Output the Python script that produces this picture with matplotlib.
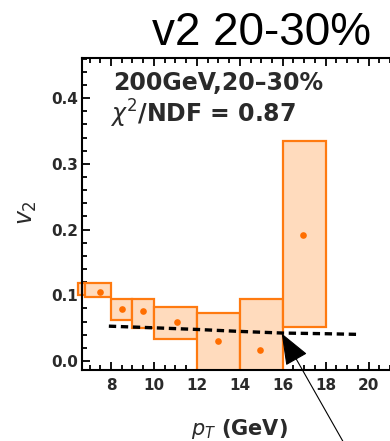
import matplotlib
matplotlib.use("Agg")
import matplotlib.pyplot as plt
from matplotlib.patches import Rectangle
from matplotlib.ticker import MultipleLocator

# pT bins with their v2 uncertainty bands
bin_lo = [6.46, 6.79, 8.0, 9.0, 10.0, 12.0, 14.0, 16.0]
bin_hi = [6.79, 8.0, 9.0, 10.0, 12.0, 14.0, 16.0, 18.0]
band_lo = [0.100, 0.098, 0.062, 0.050, 0.033, -0.03, -0.03, 0.051]
band_hi = [0.118, 0.118, 0.094, 0.094, 0.082, 0.0735, 0.094, 0.334]

# measured v2 points
pt_pts = [7.5, 8.5, 9.5, 11.07, 13.0, 14.93, 16.95]
v2_pts = [0.105, 0.079, 0.076, 0.059, 0.030, 0.017, 0.192]

# model curve
pt_curve = [7.9, 10.0, 12.0, 14.0, 16.0, 18.0, 19.5]
v2_curve = [0.053, 0.0505, 0.048, 0.045, 0.0425, 0.0415, 0.0405]

x_ticks = [8, 10, 12, 14, 16, 18, 20]
y_ticks = [0.0, 0.1, 0.2, 0.3, 0.4]

edge_c = "#ff7a10"
fill_c = "#ffdbbd"
text_c = "#2a2a2a"

plt.rcParams["font.family"] = ["DejaVu Sans"]
plt.rcParams["mathtext.fontset"] = "dejavusans"

fig = plt.figure(figsize=(3.9, 4.41), dpi=100)
ax = fig.add_axes([0.2103, 0.161, 0.845, 0.7075])
ax.set_xlim(6.65, 22.0)
ax.set_ylim(-0.0137, 0.461)

for i, (lo, hi, b, t) in enumerate(zip(bin_lo, bin_hi, band_lo, band_hi)):
    r = Rectangle((lo, b), hi - lo, t - b, facecolor=fill_c, edgecolor=edge_c,
                  linewidth=1.6, zorder=2, clip_on=(i != 0))
    ax.add_patch(r)

ax.plot(pt_pts, v2_pts, "o", color="#ff6e00", markersize=4.8, zorder=4,
        markeredgewidth=0)

ln, = ax.plot(pt_curve, v2_curve, color="black", linewidth=2.4, zorder=3)
ln.set_dashes((2.2, 1.4))

for s in ax.spines.values():
    s.set_linewidth(1.5)
    s.set_zorder(5)

ax.set_xticks(x_ticks)
ax.set_yticks(y_ticks)
ax.set_yticklabels([f"{v:.1f}" for v in y_ticks])
ax.xaxis.set_minor_locator(MultipleLocator(0.5))
ax.yaxis.set_minor_locator(MultipleLocator(0.02))
ax.tick_params(which="both", direction="in", top=True, right=True, width=1.3,
               colors="black")
ax.tick_params(which="major", length=6)
ax.tick_params(which="minor", length=3.5)
ax.tick_params(axis="x", which="major", pad=6, labelsize=11)
ax.tick_params(axis="y", which="major", pad=3, labelsize=11)
for lab in ax.get_xticklabels() + ax.get_yticklabels():
    lab.set_fontweight("bold")
    lab.set_color(text_c)

fig.text(113 / 390, 1 - 90 / 441, "200GeV,20\u201330%", fontsize=17,
         fontweight="bold", color=text_c, ha="left", va="baseline")
fig.text(110 / 390, 1 - 123 / 441, r"$\chi^2$/NDF = 0.87", fontsize=17,
         fontweight="bold", color=text_c, ha="left", va="baseline")

fig.text(27 / 390, 1 - 213 / 441, r"$v_2$", fontsize=17, rotation=90,
         ha="center", va="center", color=text_c)
fig.text(239 / 390, 1 - 429 / 441, r"$p_T$ (GeV)", fontsize=15,
         fontweight="bold", ha="center", va="center", color=text_c)

fig.text(261 / 390, 1 - 45 / 441, "v2 20-30%", fontsize=33,
         family=["Liberation Sans", "DejaVu Sans"], ha="center", va="baseline")

ax.annotate("", xy=(15.95, 0.042), xycoords="data",
            xytext=(345, -4), textcoords="figure pixels",
            arrowprops=dict(arrowstyle="-|>,head_length=2.0,head_width=0.78",
                            color="black", lw=0.8, shrinkA=0, shrinkB=0),
            annotation_clip=False, zorder=6)

fig.savefig("out.png", dpi=100)
